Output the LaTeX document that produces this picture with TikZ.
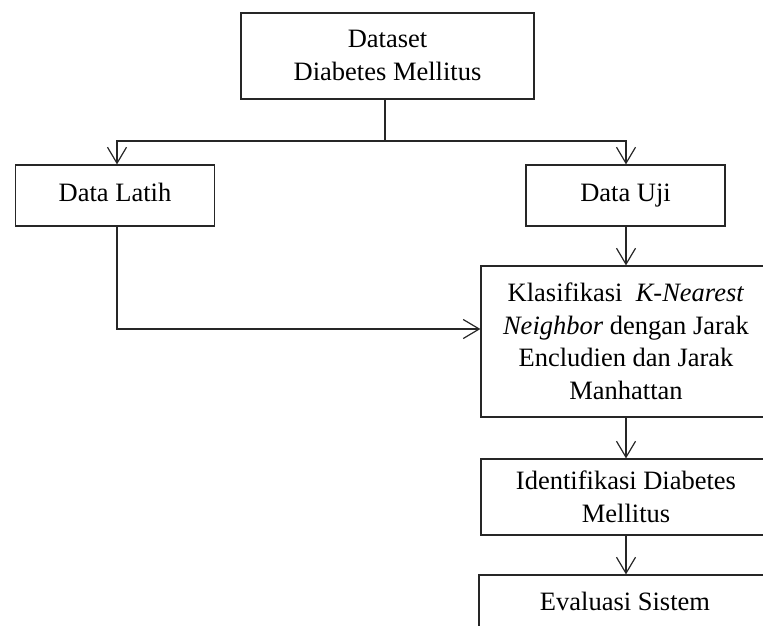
\documentclass[tikz,border=0pt]{standalone}
\usepackage{fontspec}
\setmainfont{Liberation Serif}
\usetikzlibrary{arrows.meta}
\begin{document}
\begin{tikzpicture}[x=1pt,y=-1pt,
  box/.style={draw=black!85, line width=1.2pt, rectangle, inner sep=0pt, align=center,
    text height=18pt, font=\fontsize{26.5}{32.5}\selectfont},
  conn/.style={draw=black!85, line width=1.2pt},
  arr/.style={conn, -{Straight Barb[length=16pt,width=19pt,line width=1.2pt]}}]
\clip (0,0) rectangle (763,625);
\node[box, text height=50.5pt, text depth=2.3pt, minimum width=293pt, minimum height=86pt] (top) at (387.5,56) {Dataset\\Diabetes Mellitus};
\node[box, text depth=7pt, minimum width=199pt, minimum height=61pt] (latih) at (115,195.5) {Data Latih};
\node[box, text depth=7pt, minimum width=199pt, minimum height=61pt] (uji) at (625.5,195.5) {Data Uji};
\node[box, text height=115.5pt, text depth=0pt, minimum width=290pt, minimum height=151pt] (klas) at (626,341.5)
  {Klasifikasi\ \ \textit{K-Nearest}\\\textit{Neighbor} dengan Jarak\\Encludien dan Jarak\\Manhattan};
\node[box, text height=50.5pt, text depth=0.5pt, minimum width=290pt, minimum height=76pt] (ident) at (626,497) {Identifikasi Diabetes\\Mellitus};
\node[box, text depth=5pt, minimum width=292pt, minimum height=57pt] (eval) at (625,603.5) {Evaluasi Sistem};
\coordinate (split) at (385,141);
\draw[conn] (top.south -| split) -- (split);
\draw[arr] (split) -| (latih.north -| 117,0);
\draw[arr] (split) -| (uji.north -| 626,0);
\draw[arr] (latih.south -| 117,0) |- (klas.west |- 0,329);
\draw[arr] (uji.south -| 626,0) -- (klas.north -| 626,0);
\draw[arr] (klas.south -| 626,0) -- (ident.north -| 626,0);
\draw[arr] (ident.south -| 626,0) -- (eval.north -| 626,0);
\end{tikzpicture}
\end{document}
